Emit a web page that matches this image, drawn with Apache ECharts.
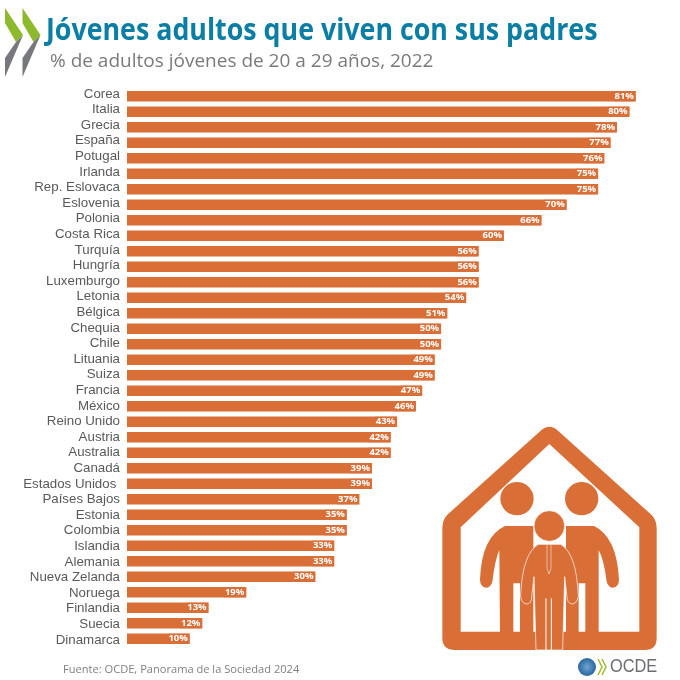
<!DOCTYPE html>
<html><head><meta charset="utf-8">
<style>html,body{margin:0;padding:0;background:#fff}#c{width:680px;height:680px}</style>
<script src="https://cdn.jsdelivr.net/npm/echarts@6/dist/echarts.min.js"></script>
</head><body><div id="c"></div>
<script>
const categories = ["Corea","Italia","Grecia","España","Potugal","Irlanda","Rep. Eslovaca","Eslovenia","Polonia","Costa Rica","Turquía","Hungría","Luxemburgo","Letonia","Bélgica","Chequia","Chile","Lituania","Suiza","Francia","México","Reino Unido","Austria","Australia","Canadá","Estados Unidos ","Países Bajos","Estonia","Colombia","Islandia","Alemania","Nueva Zelanda","Noruega","Finlandia","Suecia","Dinamarca"];
const values = [81,80,78,77,76,75,75,70,66,60,56,56,56,54,51,50,50,49,49,47,46,43,42,42,39,39,37,35,35,33,33,30,19,13,12,10];
const titleText = "Jóvenes adultos que viven con sus padres";
const subtitleText = "% de adultos jóvenes de 20 a 29 años, 2022";
const sourceText = "Fuente: OCDE, Panorama de la Sociedad 2024";
const ORANGE = "#d96f37";

const chart = echarts.init(document.getElementById('c'), null, {renderer:'canvas'});
const chev = dx => [
 {type:'polygon',shape:{points:[[5+dx,8],[23+dx,35],[16+dx,42],[5+dx,23]]},style:{fill:'#8fb92c'}},
 {type:'polygon',shape:{points:[[23+dx,35],[5+dx,77],[5+dx,58],[16+dx,42]]},style:{fill:'#77787b'}}
];
let shapeId = 0;
const svgPath = (d, style) => {
 const name = 'iconShape' + (shapeId++);
 echarts.graphic.registerShape(name, echarts.graphic.extendPath(d));
 return {type:name, style};
};
const iconPaths = [
 // house frame
 ["M332,32 Q358,8 384,32 L664,284 Q680,300 680,325 L680,655 Q680,690 645,690 L75,690 Q37,690 37,655 L37,325 Q37,300 52,284 Z M358,72 L92,322 L92,635 L628,635 L628,322 Z", {fill:ORANGE}],
 // adults
 ["M225,318 L310,318 L310,640 L270,640 L270,490 L250,490 L250,640 L210,640 L208,390 Q195,420 187,485 Q182,503 167,503 Q150,500 150,478 Q155,350 225,318 Z", {fill:ORANGE}],
 ["M492,318 L408,318 L408,640 L446,640 L446,490 L466,490 L466,640 L506,640 L506,390 Q522,420 530,485 Q535,503 550,503 Q567,500 567,478 Q560,350 492,318 Z", {fill:ORANGE}],
 // child
 ["M325,373 L392,373 Q440,400 445,530 Q440,552 425,552 Q411,548 411,530 L404,470 L398,690 L318,690 L312,470 L305,530 Q305,552 290,552 Q272,550 272,525 Q278,400 325,373 Z", {fill:ORANGE, stroke:'#fff', lineWidth:2}],
 ["M348,535 L348,690 M364,535 L364,690", {fill:'none', stroke:'#fff', lineWidth:3}],
 ["M351,373 L351,445 L357,462 L363,445 L363,373", {fill:'none', stroke:'#fff', lineWidth:1.5}]
];
const icon = {type:'group',x:430,y:420,scaleX:1/3,scaleY:1/3,children:[
 ...iconPaths.map(p=>svgPath(p[0],p[1])),
 {type:'circle',shape:{cx:261,cy:236,r:50},style:{fill:ORANGE}},
 {type:'circle',shape:{cx:455,cy:236,r:50},style:{fill:ORANGE}},
 {type:'circle',shape:{cx:358,cy:318,r:46},style:{fill:ORANGE,stroke:'#fff',lineWidth:2}}
]};
const logo = [
 {type:'circle',shape:{cx:587,cy:667,r:9},style:{fill:new echarts.graphic.RadialGradient(0.5,0.5,0.6,[{offset:0,color:'#6fa4cf'},{offset:1,color:'#1c5a96'}])}},
 svgPath("M598,659 L602,667 L598,675 M602,659 L606,667 L602,675",{fill:'none',stroke:'#a3bd3a',lineWidth:1.6}),
 {type:'text',x:610,y:667,scaleX:0.86,style:{text:'OCDE',font:'19px "Liberation Sans"',fill:'#6d6e71',verticalAlign:'middle',align:'left'}}
];
chart.setOption({
 animation:false,
 backgroundColor:'#fff',
 grid:[
  {left:127,top:88.5,width:534,height:558,outerBoundsMode:'none'},
  {left:127,top:86.2,width:534,height:561.6,outerBoundsMode:'none'}
 ],
 xAxis:[
  {type:'value',gridIndex:0,min:0,max:85,show:false},
  {type:'value',gridIndex:1,min:0,max:85,show:false}
 ],
 yAxis:[
  {type:'category',gridIndex:0,inverse:true,data:categories,
   axisLine:{show:false},axisTick:{show:false},axisLabel:{show:false}},
  {type:'category',gridIndex:1,inverse:true,data:categories,
   axisLine:{show:false},axisTick:{show:false},
   axisLabel:{color:'#595959',fontSize:13.3,interval:0,fontFamily:'"Liberation Sans",Arial,sans-serif',margin:7}}
 ],
 series:[{type:'bar',xAxisIndex:0,yAxisIndex:0,data:values,barWidth:10.5,silent:true,itemStyle:{color:ORANGE},
  label:{show:true,position:'insideRight',distance:1,formatter:'{c}%',color:'#fff',fontSize:9.5,fontWeight:'bold',fontFamily:'"Open Sans",sans-serif',backgroundColor:ORANGE,padding:[0,1]}}],
 graphic:{elements:[
  ...chev(0),...chev(17.5),
  {type:'text',x:46,y:31,scaleX:0.864,style:{text:titleText,font:'bold 31px "Open Sans",sans-serif',fill:'#0a7ea4',verticalAlign:'middle'}},
  {type:'text',x:50,y:62,style:{text:subtitleText,font:'19px "Open Sans",sans-serif',fill:'#7a7a7a',verticalAlign:'middle'}},
  {type:'text',x:63,y:670,style:{text:sourceText,font:'11.1px "Open Sans",sans-serif',fill:'#7f7f7f',verticalAlign:'middle'}},
  icon,...logo
 ]}
});
</script></body></html>
